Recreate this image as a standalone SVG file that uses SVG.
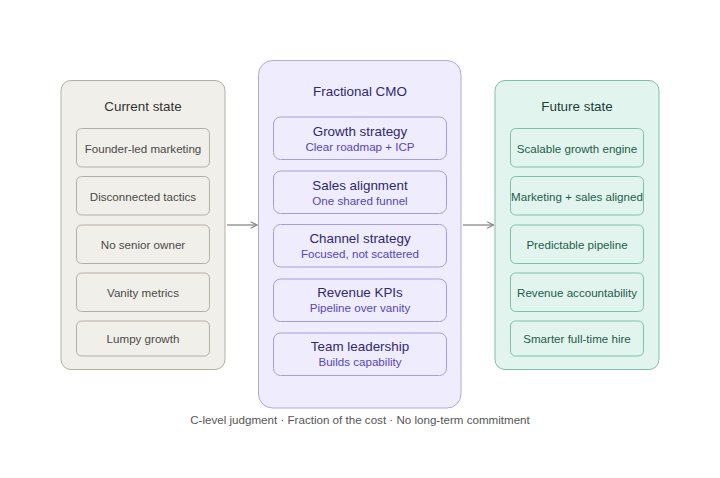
<svg xmlns="http://www.w3.org/2000/svg" width="720" height="478" viewBox="0 0 720 478">
<defs>
<style>
text{font-family:"Liberation Sans",Arial,sans-serif;text-anchor:middle}
.cur-panel{fill:#f1efe9;stroke:#b5aea4;stroke-width:1}
.cur-item{fill:#f1efe9;stroke:#b5aea4;stroke-width:1}
.cur-t{fill:#333;font-size:13.4px}
.cur-i{fill:#4a4a4a;font-size:11.6px}
.mid-panel{fill:#eeecfd;stroke:#b0a6ea;stroke-width:1}
.mid-item{fill:#eeecfd;stroke:#a89ce6;stroke-width:1}
.mid-t{fill:#2f2a6b;font-size:13.4px}
.mid-h{fill:#2f2a6b;font-size:13.4px}
.mid-s{fill:#5647b8;font-size:11.6px}
.fut-panel{fill:#e2f4ee;stroke:#7dc2a6;stroke-width:1}
.fut-item{fill:#e2f4ee;stroke:#7dc2a6;stroke-width:1}
.fut-t{fill:#1c3f35;font-size:13.4px}
.fut-i{fill:#1f5c4a;font-size:11.6px}
.conn{stroke:#888;stroke-width:1.3;fill:none}
.cap{fill:#555;font-size:11.6px}
</style>
<marker id="arr" viewBox="0 0 10 10" refX="9" refY="5" markerWidth="8" markerHeight="8" markerUnits="userSpaceOnUse" orient="auto">
<path d="M1,1 L9,5 L1,9" fill="none" stroke="#888" stroke-width="1.4"/>
</marker>
</defs>
<rect width="720" height="478" fill="#ffffff"/>

<g id="current-state">
<rect class="cur-panel" x="61" y="80.5" width="164" height="289" rx="10"/>
<text class="cur-t" x="143" y="111">Current state</text>
<g id="cur-1"><rect class="cur-item" x="76.5" y="128.5" width="133" height="38.5" rx="5"/><text class="cur-i" x="143" y="153">Founder-led marketing</text></g>
<g id="cur-2"><rect class="cur-item" x="76.5" y="176.5" width="133" height="38.5" rx="5"/><text class="cur-i" x="143" y="201">Disconnected tactics</text></g>
<g id="cur-3"><rect class="cur-item" x="76.5" y="225" width="133" height="38.5" rx="5"/><text class="cur-i" x="143" y="249">No senior owner</text></g>
<g id="cur-4"><rect class="cur-item" x="76.5" y="273" width="133" height="38.5" rx="5"/><text class="cur-i" x="143" y="297">Vanity metrics</text></g>
<g id="cur-5"><rect class="cur-item" x="76.5" y="321" width="133" height="35" rx="5"/><text class="cur-i" x="143" y="343">Lumpy growth</text></g>
</g>

<g id="fractional-cmo">
<rect class="mid-panel" x="258.5" y="60.5" width="202.5" height="347.5" rx="14"/>
<text class="mid-t" x="360" y="95.5">Fractional CMO</text>
<g id="mid-1"><rect class="mid-item" x="273.5" y="117" width="173" height="42.5" rx="7"/><text class="mid-h" x="360" y="135.5">Growth strategy</text><text class="mid-s" x="360" y="150.5">Clear roadmap + ICP</text></g>
<g id="mid-2"><rect class="mid-item" x="273.5" y="171" width="173" height="42.5" rx="7"/><text class="mid-h" x="360" y="189.5">Sales alignment</text><text class="mid-s" x="360" y="204.5">One shared funnel</text></g>
<g id="mid-3"><rect class="mid-item" x="273.5" y="224.5" width="173" height="42.5" rx="7"/><text class="mid-h" x="360" y="243">Channel strategy</text><text class="mid-s" x="360" y="258">Focused, not scattered</text></g>
<g id="mid-4"><rect class="mid-item" x="273.5" y="279" width="173" height="42.5" rx="7"/><text class="mid-h" x="360" y="297">Revenue KPIs</text><text class="mid-s" x="360" y="312">Pipeline over vanity</text></g>
<g id="mid-5"><rect class="mid-item" x="273.5" y="333" width="173" height="42.5" rx="7"/><text class="mid-h" x="360" y="351">Team leadership</text><text class="mid-s" x="360" y="366">Builds capability</text></g>
</g>

<g id="future-state">
<rect class="fut-panel" x="495" y="80.5" width="164" height="289" rx="10"/>
<text class="fut-t" x="577" y="111">Future state</text>
<g id="fut-1"><rect class="fut-item" x="510.5" y="128.5" width="133" height="38.5" rx="5"/><text class="fut-i" x="577" y="153">Scalable growth engine</text></g>
<g id="fut-2"><rect class="fut-item" x="510.5" y="176.5" width="133" height="38.5" rx="5"/><text class="fut-i" x="577" y="201">Marketing + sales aligned</text></g>
<g id="fut-3"><rect class="fut-item" x="510.5" y="225" width="133" height="38.5" rx="5"/><text class="fut-i" x="577" y="249">Predictable pipeline</text></g>
<g id="fut-4"><rect class="fut-item" x="510.5" y="273" width="133" height="38.5" rx="5"/><text class="fut-i" x="577" y="297">Revenue accountability</text></g>
<g id="fut-5"><rect class="fut-item" x="510.5" y="321" width="133" height="35" rx="5"/><text class="fut-i" x="577" y="343">Smarter full-time hire</text></g>
</g>

<g id="connectors">
<line class="conn" x1="227" y1="225" x2="257" y2="225" marker-end="url(#arr)"/>
<line class="conn" x1="463" y1="225" x2="493.5" y2="225" marker-end="url(#arr)"/>
</g>

<text class="cap" x="360" y="424">C-level judgment · Fraction of the cost · No long-term commitment</text>
</svg>
